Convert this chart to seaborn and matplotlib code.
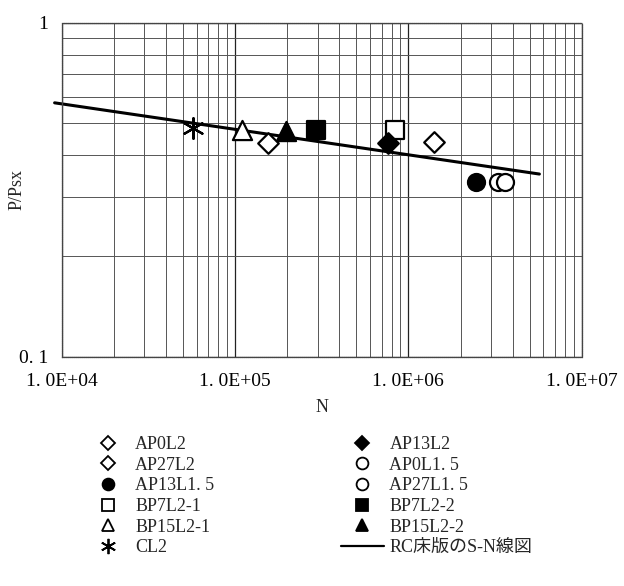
import matplotlib
matplotlib.use("Agg")
import matplotlib.pyplot as plt
import matplotlib.ticker as mticker
from matplotlib.lines import Line2D
import seaborn as sns

# test data (N, P/Psx)
labels = ["AP0L2", "AP27L2", "AP13L1.5", "BP7L2-1", "BP15L2-1", "CL2",
          "AP13L2", "AP0L1.5", "AP27L1.5", "BP7L2-2", "BP15L2-2"]
n_cycles = [1.41e6, 1.55e5, 2.46e6, 8.4e5, 1.10e5, 5.7e4,
            7.6e5, 3.29e6, 3.62e6, 2.92e5, 1.98e5]
p_ratio = [0.439, 0.437, 0.333, 0.476, 0.477, 0.485,
           0.437, 0.333, 0.333, 0.476, 0.474]

# RC床版のS-N線図 (end points)
sn_n = [9.1e3, 5.7e6]
sn_p = [0.575, 0.352]

tick_x = [1e4, 1e5, 1e6, 1e7]
tick_x_labels = ["1. 0E+04", "1. 0E+05", "1. 0E+06", "1. 0E+07"]
tick_y = [0.1, 1]
tick_y_labels = ["0. 1", "1"]

# marker, filled?
styles = {
    "AP0L2": ("D", False), "AP27L2": ("D", False), "AP13L1.5": ("o", True),
    "BP7L2-1": ("s", False), "BP15L2-1": ("^", False), "CL2": ((6, 2, 0), True),
    "AP13L2": ("D", True), "AP0L1.5": ("o", False), "AP27L1.5": ("o", False),
    "BP7L2-2": ("s", True), "BP15L2-2": ("^", True),
}
sizes = {"D": 110, "o": 150, "s": 150, "^": 190}

sns.set_style("white")
plt.rcParams["font.family"] = ["Liberation Serif", "Noto Sans CJK JP", "DejaVu Sans"]

fig = plt.figure(figsize=(6.24, 5.86), dpi=100)
ax = fig.add_axes([0.0989, 0.3913, 0.8333, 0.5703])
ax.set_xscale("log")
ax.set_yscale("log")
ax.set_xlim(1e4, 1e7)
ax.set_ylim(0.1, 1)

ax.grid(True, which="major", color="#222222", lw=0.9)
ax.grid(True, which="minor", color="#555555", lw=0.7)
ax.set_axisbelow(True)
for sp in ax.spines.values():
    sp.set_color("#444444")
    sp.set_linewidth(0.9)
    sp.set_linestyle((0, (1, 0.6)))

sns.lineplot(x=sn_n, y=sn_p, ax=ax, color="black", lw=2.2, clip_on=False,
             legend=False)

handles = []
for lab, n, p in zip(labels, n_cycles, p_ratio):
    mk, filled = styles[lab]
    s = 220 if lab == "CL2" else sizes[mk]
    fc = "black" if filled else "white"
    sns.scatterplot(x=[n], y=[p], ax=ax, marker=mk, s=s, facecolor=fc,
                    edgecolor="black", linewidth=1.6, zorder=3, legend=False)
    h = Line2D([], [], linestyle="none", marker=mk,
               markersize=(11 if lab == "CL2" else 8.5 if mk != "D" else 7.5),
               markerfacecolor=fc, markeredgecolor="black", markeredgewidth=1.3)
    handles.append((h, lab))

ax.xaxis.set_major_locator(mticker.FixedLocator(tick_x))
ax.xaxis.set_major_formatter(mticker.FixedFormatter(tick_x_labels))
ax.yaxis.set_major_locator(mticker.FixedLocator(tick_y))
ax.yaxis.set_major_formatter(mticker.FixedFormatter(tick_y_labels))
ax.xaxis.set_minor_locator(mticker.LogLocator(base=10, subs=range(2, 10)))
ax.yaxis.set_minor_locator(mticker.LogLocator(base=10, subs=range(2, 10)))
ax.xaxis.set_minor_formatter(mticker.NullFormatter())
ax.yaxis.set_minor_formatter(mticker.NullFormatter())
ax.tick_params(which="both", length=0, labelsize=14, colors="black")
ax.tick_params(axis="x", pad=12)
ax.tick_params(axis="y", pad=10)

ax.set_xlabel("N", fontsize=13, labelpad=6)
ax.set_ylabel("P/Psx", fontsize=13)
ax.yaxis.set_label_coords(-0.07, 0.5)

# legend: left column first six, right column rest + S-N line
leg_h = [h for h, _ in handles]
leg_l = [lab.replace(".", ". ") for _, lab in handles]
leg_h.append(Line2D([], [], color="black", lw=1.6))
leg_l.append("RC床版のS-N線図")
fig.legend(leg_h, leg_l, ncol=2, loc="upper left",
           bbox_to_anchor=(0.127, 0.268), frameon=False, fontsize=13,
           handlelength=2.4, handletextpad=0.3, labelspacing=0.2,
           columnspacing=7.0, borderaxespad=0)

fig.savefig("out.png", dpi=100)
